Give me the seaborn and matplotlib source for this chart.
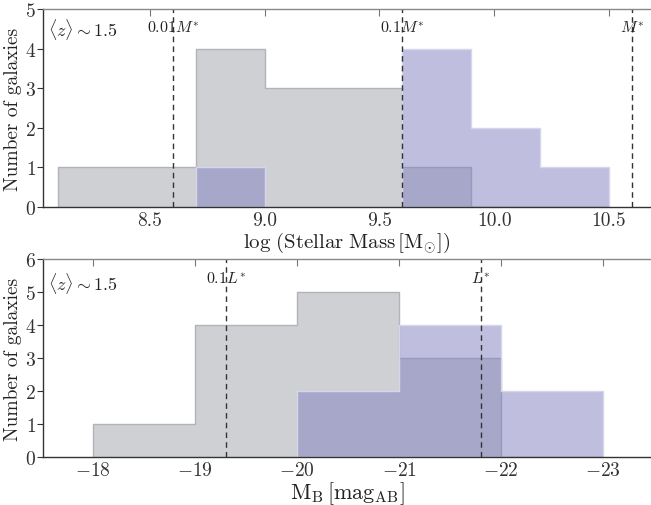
import numpy as np
import pandas as pd
import matplotlib
matplotlib.use("Agg")
import matplotlib.pyplot as plt
import seaborn as sns

# histogram data (counts per bin) --------------------------------------------
mass_edges = [8.1, 8.4, 8.7, 9.0, 9.3, 9.6, 9.9, 10.2, 10.5]
mass_gray = [1, 1, 4, 3, 3, 1, 0, 0]
mass_blue = [0, 0, 1, 0, 0, 4, 2, 1]

mag_edges = [-23, -22, -21, -20, -19, -18]
mag_gray = [0, 3, 5, 4, 1]
mag_blue = [2, 4, 2, 0, 0]

# reference lines
mass_lines = [8.6, 9.6, 10.6]
mass_line_labels = [r'$0.01M^{*}$', r'$0.1M^{*}$', r'$M^{*}$']
mag_lines = [-19.3, -21.8]
mag_line_labels = [r'$0.1L^{*}$', r'$L^{*}$']

gray_col = '#a0a2aa'
blue_col = '#817fc1'
gray_edge = '#b2b3b8'
blue_edge = '#d6d5ec'

sns.set_style('white')
plt.rcParams['font.family'] = 'serif'
plt.rcParams['font.serif'] = ['cmr10']
plt.rcParams['mathtext.fontset'] = 'cm'
plt.rcParams['axes.formatter.use_mathtext'] = True
plt.rcParams['axes.unicode_minus'] = True
plt.rcParams['text.color'] = '#222222'
plt.rcParams['axes.labelcolor'] = '#222222'
plt.rcParams['xtick.color'] = '#333333'
plt.rcParams['ytick.color'] = '#333333'

fig = plt.figure(figsize=(6.51, 5.06), dpi=100)
ax1 = fig.add_axes([43 / 651, 1 - 208 / 506, 608 / 651, 198 / 506])
ax2 = fig.add_axes([43 / 651, 1 - 458 / 506, 608 / 651, 198 / 506])


def centers(edges):
    e = np.array(edges, dtype=float)
    return (e[:-1] + e[1:]) / 2


def draw_hist(ax, edges, counts, color, edge):
    df = pd.DataFrame({'x': centers(edges), 'w': counts})
    n_before = len(ax.collections)
    sns.histplot(data=df, x='x', weights='w', bins=edges, element='step',
                 fill=True, color=color, alpha=0.5, linewidth=1.0, ax=ax)
    # soften the outline like the original
    for coll in ax.collections[n_before:]:
        coll.set_alpha(None)
        fc = matplotlib.colors.to_rgba(color, 0.5)
        coll.set_facecolor(fc)
        coll.set_edgecolor(edge)


# top panel: stellar mass
draw_hist(ax1, mass_edges, mass_gray, gray_col, gray_edge)
draw_hist(ax1, mass_edges, mass_blue, blue_col, blue_edge)
for xv, lab in zip(mass_lines, mass_line_labels):
    ax1.axvline(xv, color='#333333', ls=(0, (4, 3)), lw=1.0)
    ax1.text(xv, 4.55, lab, ha='center', va='center', fontsize=11.5)
ax1.text(0.008, 0.9, r'$\langle z\rangle \sim 1.5$', transform=ax1.transAxes,
         ha='left', va='center', fontsize=13)
ax1.set_xlim(8.034, 10.683)
ax1.set_ylim(0, 5)
ax1.set_xticks([8.5, 9.0, 9.5, 10.0, 10.5])
ax1.set_xticklabels(['8.5', '9.0', '9.5', '10.0', '10.5'])
ax1.set_yticks(range(0, 6))
ax1.set_xlabel(r'$\log\,(\mathrm{Stellar\ Mass}\,[\mathrm{M}_{\odot}])$', fontsize=15, labelpad=0)

# bottom panel: B-band magnitude
draw_hist(ax2, mag_edges, mag_gray, gray_col, gray_edge)
draw_hist(ax2, mag_edges, mag_blue, blue_col, blue_edge)
for xv, lab in zip(mag_lines, mag_line_labels):
    ax2.axvline(xv, color='#333333', ls=(0, (4, 3)), lw=1.0)
    ax2.text(xv, 5.42, lab, ha='center', va='center', fontsize=11.5)
ax2.text(0.008, 0.88, r'$\langle z\rangle \sim 1.5$', transform=ax2.transAxes,
         ha='left', va='center', fontsize=13)
ax2.set_xlim(-17.51, -23.47)
ax2.set_ylim(0, 6)
ax2.set_xticks([-18, -19, -20, -21, -22, -23])
ax2.set_yticks(range(0, 7))
ax2.set_xlabel(r'$\mathrm{M_B}\,[\mathrm{mag_{AB}}]$', fontsize=16, labelpad=0)

for ax in (ax1, ax2):
    ax.set_ylabel('Number of galaxies', fontsize=14, labelpad=2)
    ax.tick_params(axis='x', bottom=False, top=True, direction='in',
                   length=5, width=0.8, labelbottom=True, labelsize=14, pad=3,
                   color='#777777')
    ax.tick_params(axis='y', left=True, direction='out', length=4, width=0.8,
                   labelsize=14, pad=1)
    for s in ('left', 'bottom'):
        ax.spines[s].set_color('#333333')
        ax.spines[s].set_linewidth(1.0)
    ax.spines['top'].set_color('#888888')
    ax.spines['top'].set_linewidth(1.0)
    ax.spines['right'].set_visible(False)

fig.savefig('out.png', dpi=100)
